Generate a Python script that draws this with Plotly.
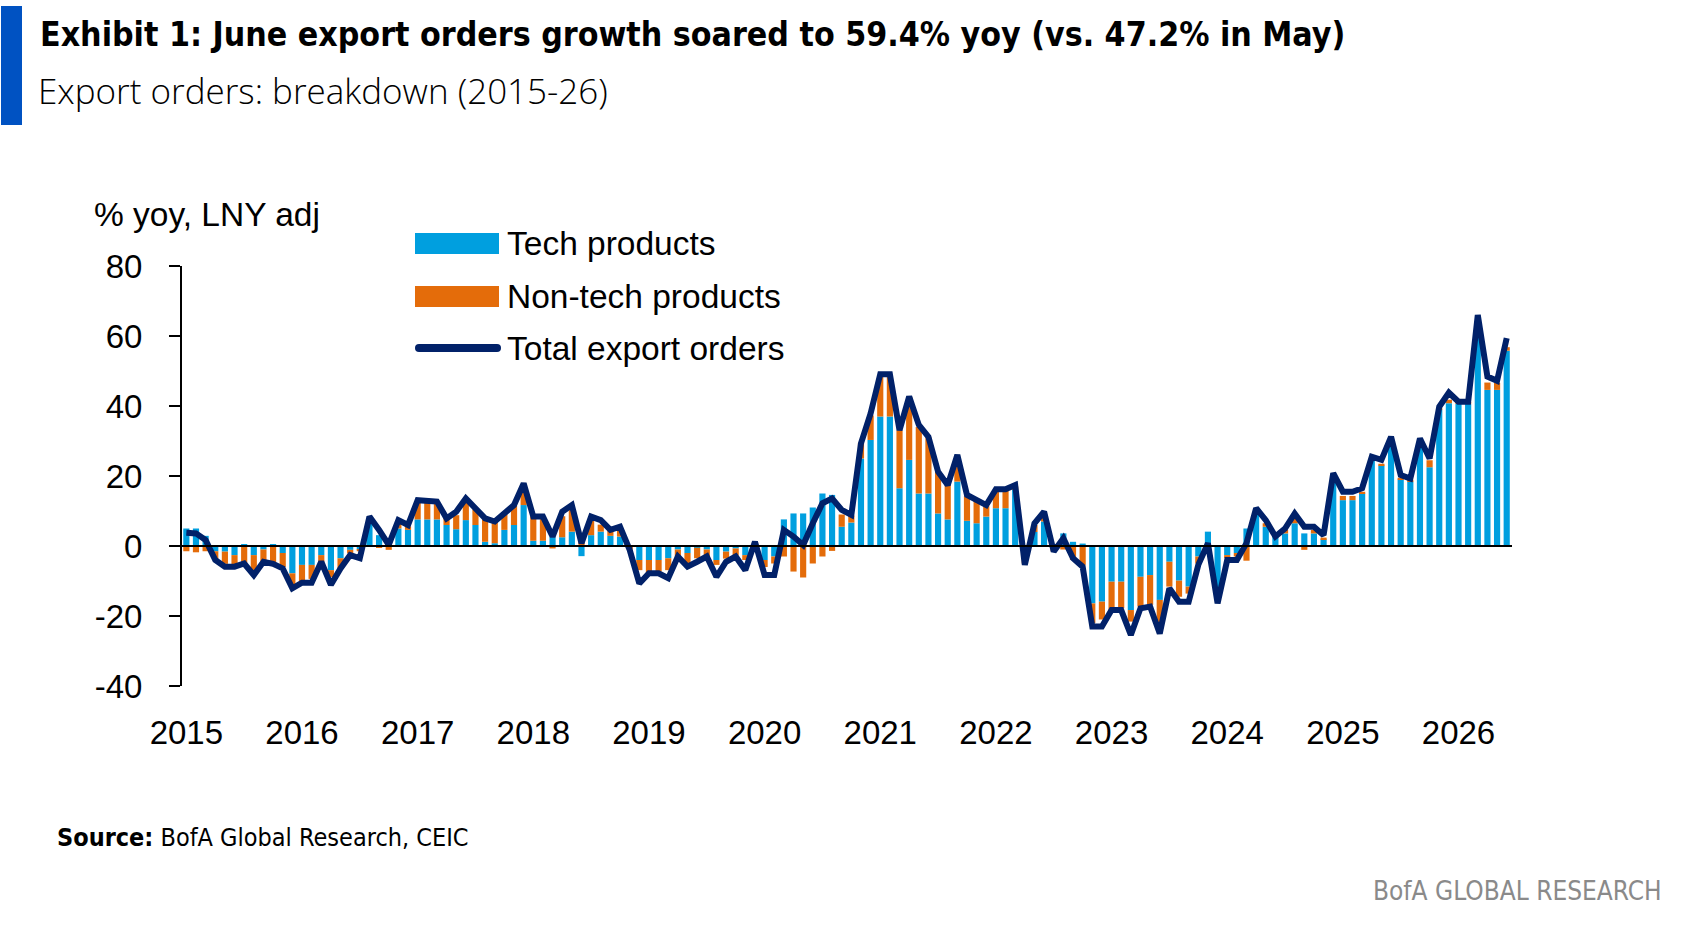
import plotly.graph_objects as go

# ---------------- data ----------------
months = [f"{y}-{m:02d}" for y in range(2015, 2027) for m in range(1, 13)][:138]
years = [str(y) for y in range(2015, 2027)]

total = [3.8, 3.6, 1.7, -4.0, -5.9, -5.9, -5.0, -8.3, -4.5, -5.1, -6.4, -12.1,
         -10.5, -10.5, -4.5, -11.1, -6.4, -2.6, -3.5, 8.4, 4.6, 0.3, 7.4, 6.0,
         13.1, 13.1, 12.7, 7.9, 9.8, 13.6, 10.8, 7.9, 7.0, 9.3, 11.7, 17.9,
         8.4, 8.4, 2.7, 9.8, 11.7, 0.8, 8.4, 7.4, 4.6, 5.5, -1.1, -10.7,
         -7.8, -7.8, -9.2, -3.0, -5.9, -4.5, -3.0, -8.8, -4.5, -3.0, -6.9, 1.2,
         -8.3, -8.3, 4.6, 2.7, 0.3, 6.5, 12.2, 13.6, 10.3, 8.9, 29.3, 37.9,
         49.1, 49.1, 33.1, 42.7, 34.6, 31.2, 21.2, 17.4, 26.0, 14.6, 13.1, 11.7,
         16.2, 16.2, 17.4, -5.4, 6.5, 9.8, -1.6, 2.2, -3.5, -5.9, -23.0, -23.0,
         -18.3, -18.3, -25.4, -17.8, -17.3, -25.0, -12.1, -15.9, -15.9, -5.4, 0.8, -16.4,
         -4.0, -4.0, 0.8, 10.8, 7.4, 2.7, 5.0, 9.3, 5.5, 5.5, 3.1, 20.8,
         15.5, 15.5, 16.5, 25.5, 24.6, 31.2, 20.3, 19.3, 30.7, 25.0, 39.8, 43.8,
         41.2, 41.2, 66.0, 48.4, 47.2, 59.4]

tech = [5.0, 5.0, 2.9, -1.5, -1.6, -2.6, 0.4, -2.6, -1.0, 0.5, -2.0, -7.8,
        -5.4, -5.4, -2.6, -6.9, -3.5, -1.1, -1.0, 6.5, 3.1, 0.3, 5.0, 4.6,
        7.6, 7.6, 7.6, 6.0, 4.8, 7.4, 6.0, 1.2, 0.8, 4.6, 6.0, 11.7,
        1.5, 1.5, 2.5, 2.5, 4.1, -2.9, 3.1, 4.1, 2.9, 2.7, -0.5, -4.0,
        -4.0, -4.0, -3.5, -1.0, -2.0, -0.5, -1.0, -4.0, -1.6, -0.7, -2.6, 0.5,
        -4.0, -3.0, 7.6, 9.3, 9.3, 11.0, 15.0, 14.6, 5.5, 6.7, 25.0, 30.3,
        37.0, 37.0, 16.5, 24.6, 15.0, 15.0, 9.3, 7.6, 18.4, 7.2, 6.5, 8.4,
        10.8, 10.8, 16.0, -3.0, 4.0, 7.0, 0.5, 3.6, 1.2, 0.7, -16.4, -15.9,
        -10.2, -10.2, -18.3, -8.8, -8.3, -15.4, -4.5, -9.9, -11.6, -3.0, 4.1, -12.0,
        -2.6, -2.0, 5.0, 9.0, 5.5, 2.7, 3.6, 6.5, 3.6, 3.6, 1.9, 19.0,
        13.1, 13.1, 15.0, 24.4, 23.0, 29.0, 19.0, 18.4, 28.5, 22.5, 39.0, 40.8,
        40.6, 40.6, 60.0, 44.6, 44.6, 55.8]

non_tech = [-1.5, -1.8, -1.5, -2.5, -3.5, -3.2, -5.0, -5.0, -3.5, -5.0, -4.0, -3.8,
            -4.8, -4.0, -1.9, -2.0, -2.8, -1.0, -0.5, 0.5, -0.5, -1.1, 2.0, 1.0,
            5.0, 5.0, 4.5, 2.0, 4.0, 5.5, 4.5, 6.5, 6.5, 4.5, 5.5, 5.5,
            7.0, 7.0, -0.7, 6.0, 7.0, 2.5, 5.0, 2.0, 1.5, 2.5, -0.5, -2.9,
            -4.3, -3.3, -3.4, -2.0, -3.0, -3.0, -2.0, -1.4, -2.0, -2.0, -1.4, 0.5,
            -2.0, -2.0, -3.0, -7.3, -9.0, -5.0, -3.0, -1.4, 3.5, 2.0, 4.5, 7.0,
            11.5, 12.0, 16.5, 18.0, 19.0, 16.0, 12.0, 10.0, 7.0, 7.0, 6.5, 3.0,
            5.0, 5.0, 1.0, -2.0, 2.0, 2.0, -1.5, -1.0, -4.0, -5.4, -5.6, -5.1,
            -8.1, -7.6, -3.3, -8.5, -8.5, -7.6, -7.1, -4.6, -2.0, -2.0, 0.0, -3.0,
            -0.9, -1.0, -4.2, 1.0, 1.0, 0.3, 1.0, 2.0, -1.1, 1.0, 0.5, 1.5,
            1.2, 1.2, 0.5, 0.5, 0.5, 1.0, 0.5, 0.5, 1.0, 2.0, 0.5, 1.0,
            0.3, 0.3, 4.0, 2.1, 2.0, 1.0]

y_ticks = [-40, -20, 0, 20, 40, 60, 80]
y_ticktext = ["-40", "-20", "0", "20", "40", "60", "80"]

# ---------------- styling ----------------
C_TECH = "#009FDF"
C_NONTECH = "#E46C0A"
C_TOTAL = "#012169"
C_BAR = "#0052C2"
FONT = "Liberation Sans, Arial, sans-serif"
COND = "DejaVu Sans Condensed, DejaVu Sans, sans-serif"
LIGHT = "Open Sans, Liberation Sans, sans-serif"

W, H = 1682, 928
L, R, T, B = 182, 170, 266, 242
PW, PH = W - L - R, H - T - B


def px(x):
    return (x - L) / PW


def py(y):
    return (H - B - y) / PH


xi = list(range(len(months)))

fig = go.Figure()
fig.add_trace(go.Bar(x=xi, y=tech, name="Tech products", marker_color=C_TECH,
                     marker_line_width=0, showlegend=False))
fig.add_trace(go.Bar(x=xi, y=non_tech, name="Non-tech products", marker_color=C_NONTECH,
                     marker_line_width=0, showlegend=False))
fig.add_trace(go.Scatter(x=xi, y=total, name="Total export orders", mode="lines",
                         line=dict(color=C_TOTAL, width=6), showlegend=False))

tickvals = [months.index(f"{y}-01") for y in years]

fig.update_layout(
    width=W, height=H,
    margin=dict(l=L, r=R, t=T, b=B),
    paper_bgcolor="white", plot_bgcolor="white",
    barmode="relative", bargap=0.36,
    font=dict(family=FONT, size=33, color="black"),
    xaxis=dict(range=[-0.45, len(months) - 0.45], tickvals=tickvals, ticktext=years,
               showgrid=False, zeroline=False, showline=False, ticks="",
               tickfont=dict(size=33), ticklabelstandoff=24, fixedrange=True),
    yaxis=dict(range=[-40, 80], tickvals=y_ticks, ticktext=y_ticktext, showgrid=False,
               zeroline=False, showline=True, linecolor="black", linewidth=2,
               ticks="outside", ticklen=11, tickwidth=2, tickcolor="black",
               tickfont=dict(size=33), ticklabelstandoff=20, fixedrange=True),
)

shapes = [
    # blue header bar
    dict(type="rect", xref="paper", yref="paper", x0=px(1), x1=px(22), y0=py(6), y1=py(125),
         fillcolor=C_BAR, line_width=0),
    # zero line
    dict(type="line", xref="paper", yref="y", x0=0, x1=1, y0=0, y1=0,
         line=dict(color="black", width=2), layer="above"),
    # legend swatches
    dict(type="rect", xref="paper", yref="paper", x0=px(415), x1=px(499), y0=py(233), y1=py(254),
         fillcolor=C_TECH, line_width=0),
    dict(type="rect", xref="paper", yref="paper", x0=px(415), x1=px(499), y0=py(286), y1=py(307),
         fillcolor=C_NONTECH, line_width=0),
    dict(type="line", xref="paper", yref="paper", x0=px(419), x1=px(497), y0=py(348), y1=py(348),
         line=dict(color=C_TOTAL, width=8)),
    dict(type="circle", xref="paper", yref="paper", x0=px(415), x1=px(423), y0=py(344), y1=py(352),
         fillcolor=C_TOTAL, line_width=0),
    dict(type="circle", xref="paper", yref="paper", x0=px(493), x1=px(501), y0=py(344), y1=py(352),
         fillcolor=C_TOTAL, line_width=0),
]
fig.update_layout(shapes=shapes)


def ann(text, x, y, size, family=FONT, xanchor="left", color="black", weight=None):
    f = dict(size=size, family=family, color=color)
    if weight is not None:
        f["weight"] = weight
    return dict(text=text, xref="paper", yref="paper", x=px(x), y=py(y), xanchor=xanchor,
                yanchor="middle", showarrow=False, font=f, align="left")


annotations = [
    ann("<b>Exhibit 1: June export orders growth soared to 59.4% yoy (vs. 47.2% in May)</b>",
        38, 35, 33.6, family=COND),
    ann("Export orders: breakdown (2015-26)", 36, 91, 35, family=LIGHT, weight=300),
    ann("% yoy, LNY adj", 92, 214, 33.5),
    ann("Tech products", 505, 243, 33.5),
    ann("Non-tech products", 505, 296, 33.5),
    ann("Total export orders", 505, 348, 33.5),
    ann("<b>Source:</b> BofA Global Research, CEIC", 55, 837, 25, family=COND),
    ann("BofA GLOBAL RESEARCH", 1664, 891, 26, family=COND, xanchor="right", color="#8a8a8a"),
]
fig.update_layout(annotations=annotations)

fig.write_html("out.html", post_script="document.body.style.margin='0';")
